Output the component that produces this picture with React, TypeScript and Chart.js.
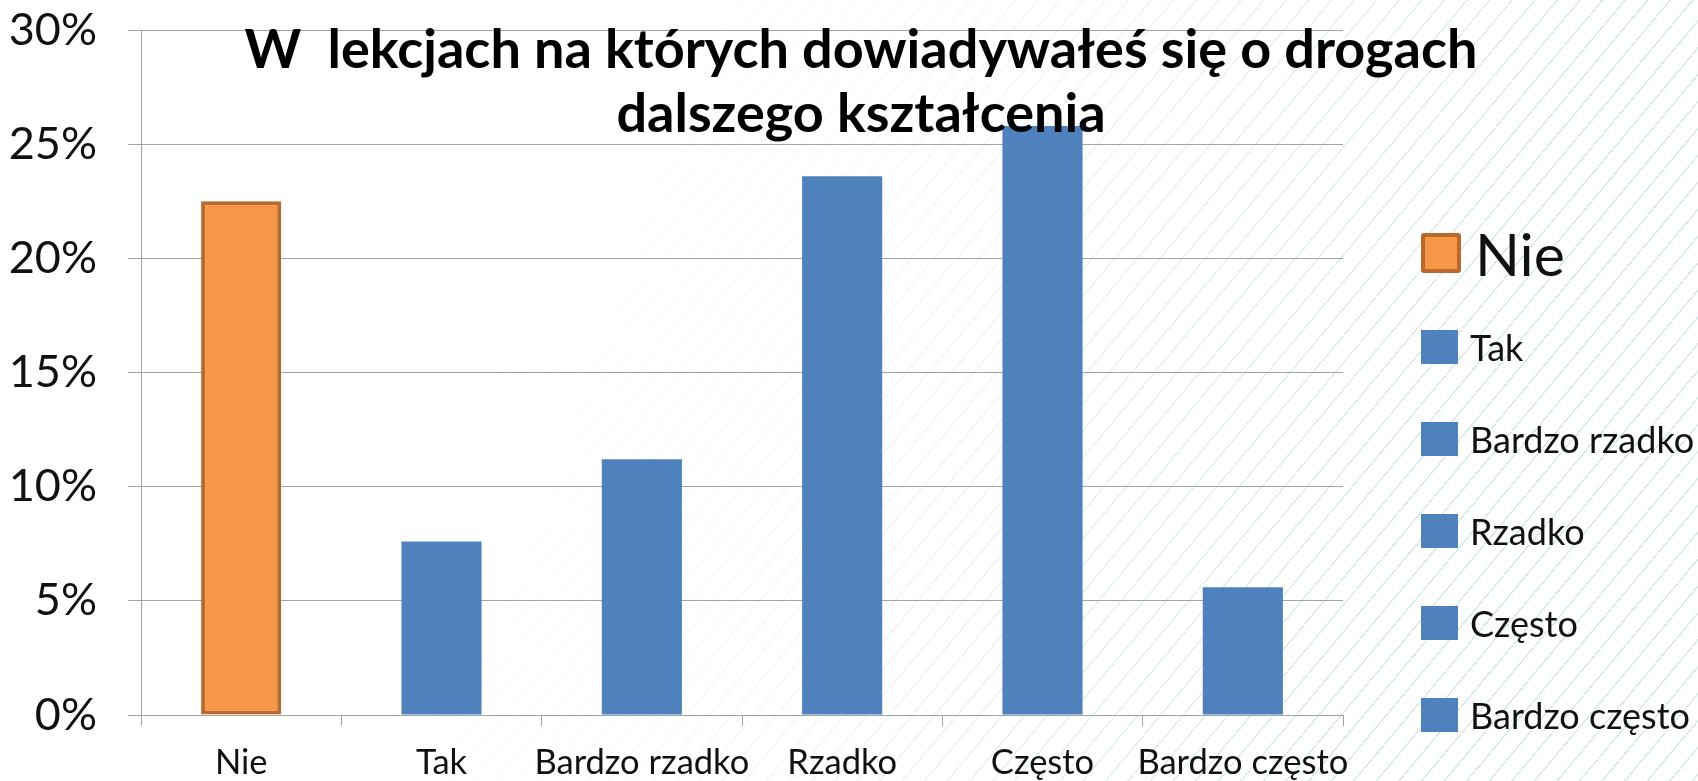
import React, { useEffect, useRef } from 'react';
import { Chart, registerables } from 'chart.js';

Chart.register(...registerables);

// ---- data ----
const categories = ['Nie', 'Tak', 'Bardzo rzadko', 'Rzadko', 'Często', 'Bardzo często'];
const values = [22.5, 7.6, 11.2, 23.6, 25.8, 5.6];
const barColors = ['#F79646', '#4F81BD', '#4F81BD', '#4F81BD', '#4F81BD', '#4F81BD'];
const barBorderColors = ['#B9692C', '#4F81BD', '#4F81BD', '#4F81BD', '#4F81BD', '#4F81BD'];
const barBorderWidths = [4, 0, 0, 0, 0, 0];
const yTickValues = [0, 5, 10, 15, 20, 25, 30];
const titleLines = ['W  lekcjach na których dowiadywałeś się o drogach', 'dalszego kształcenia'];
const legendLarge = [true, false, false, false, false, false];

const FONT = 'Lato, "Open Sans", sans-serif';
const GRID = '#A3A3A3';

const titlePlugin = {
  id: 'overlayTitle',
  afterDraw(chart: any) {
    const ctx = chart.ctx;
    ctx.save();
    ctx.font = `bold 54px ${FONT}`;
    ctx.fillStyle = '#000';
    ctx.textAlign = 'center';
    ctx.textBaseline = 'alphabetic';
    titleLines.forEach((line, i) => ctx.fillText(line, 861, 68 + i * 64));
    ctx.restore();
  },
};

export default function App() {
  const ref = useRef<HTMLCanvasElement | null>(null);

  useEffect(() => {
    if (!ref.current) return;
    const chart = new Chart(ref.current, {
      type: 'bar',
      data: {
        labels: categories,
        datasets: [
          {
            data: values,
            backgroundColor: barColors,
            borderColor: barBorderColors,
            borderWidth: barBorderWidths,
            borderSkipped: false,
            barPercentage: 0.4,
            categoryPercentage: 1,
          },
        ],
      },
      options: {
        responsive: false,
        animation: false,
        layout: { padding: { left: 0, top: 30, right: 355, bottom: 0 } },
        plugins: {
          legend: { display: false },
          title: { display: false },
          tooltip: { enabled: false },
        },
        scales: {
          x: {
            grid: {
              display: true,
              drawOnChartArea: false,
              drawTicks: true,
              tickLength: 11,
              color: GRID,
              offset: true,
            },
            border: { display: true, color: GRID },
            ticks: {
              color: '#111',
              font: { family: FONT, size: 34.5 },
              padding: 16,
              maxRotation: 0,
              autoSkip: false,
            },
            afterFit: (scale: any) => {
              scale.height = 66;
              scale.paddingLeft = 0;
              scale.paddingRight = 0;
            },
          },
          y: {
            min: 0,
            max: 30,
            afterBuildTicks: (scale: any) => {
              scale.ticks = yTickValues.map((v) => ({ value: v }));
            },
            grid: { color: GRID, drawTicks: true, tickLength: 13 },
            border: { display: true, color: GRID },
            ticks: {
              color: '#111',
              font: { family: FONT, size: 45 },
              padding: 31,
              callback: (v: any) => `${v}%`,
            },
            afterFit: (scale: any) => {
              scale.width = 141;
              scale.paddingTop = 0;
              scale.paddingBottom = 0;
            },
          },
        },
      },
      plugins: [titlePlugin],
    });
    return () => chart.destroy();
  }, []);

  return (
    <div
      style={{
        position: 'absolute',
        left: 0,
        top: 0,
        width: 1698,
        height: 781,
        background: '#fff',
        overflow: 'hidden',
        fontFamily: FONT,
      }}
    >
      <div
        style={{
          position: 'absolute',
          inset: 0,
          backgroundImage:
            'repeating-linear-gradient(130deg, rgba(255,255,255,0) 0px, rgba(255,255,255,0) 16px, rgba(175,212,212,0.55) 16px, rgba(175,212,212,0.55) 17.3px)',
          WebkitMaskImage: 'linear-gradient(110deg, transparent 32%, rgba(0,0,0,0.45) 58%, #000 82%)',
          maskImage: 'linear-gradient(110deg, transparent 32%, rgba(0,0,0,0.45) 58%, #000 82%)',
        }}
      />
      <canvas ref={ref} width={1698} height={781} style={{ position: 'absolute', left: 0, top: 0 }} />
      <div style={{ position: 'absolute', left: 1421, top: 233 }}>
        {categories.map((c, i) => {
          const large = legendLarge[i];
          const top = large ? 0 : 97 + (i - 1) * 92;
          return (
            <div
              key={c}
              style={{
                position: 'absolute',
                left: 0,
                top,
                display: 'flex',
                alignItems: 'center',
                whiteSpace: 'nowrap',
                height: large ? 40 : 34,
              }}
            >
              <div
                style={{
                  width: large ? 40 : 37,
                  height: large ? 40 : 34,
                  boxSizing: 'border-box',
                  background: barColors[i],
                  border: barBorderWidths[i] ? `${barBorderWidths[i]}px solid ${barBorderColors[i]}` : 'none',
                  borderRadius: large ? 3 : 0,
                  flex: 'none',
                }}
              />
              <span
                style={{
                  marginLeft: large ? 14 : 12,
                  fontSize: large ? 59 : 36,
                  lineHeight: 1,
                  color: '#111',
                }}
              >
                {c}
              </span>
            </div>
          );
        })}
      </div>
    </div>
  );
}
